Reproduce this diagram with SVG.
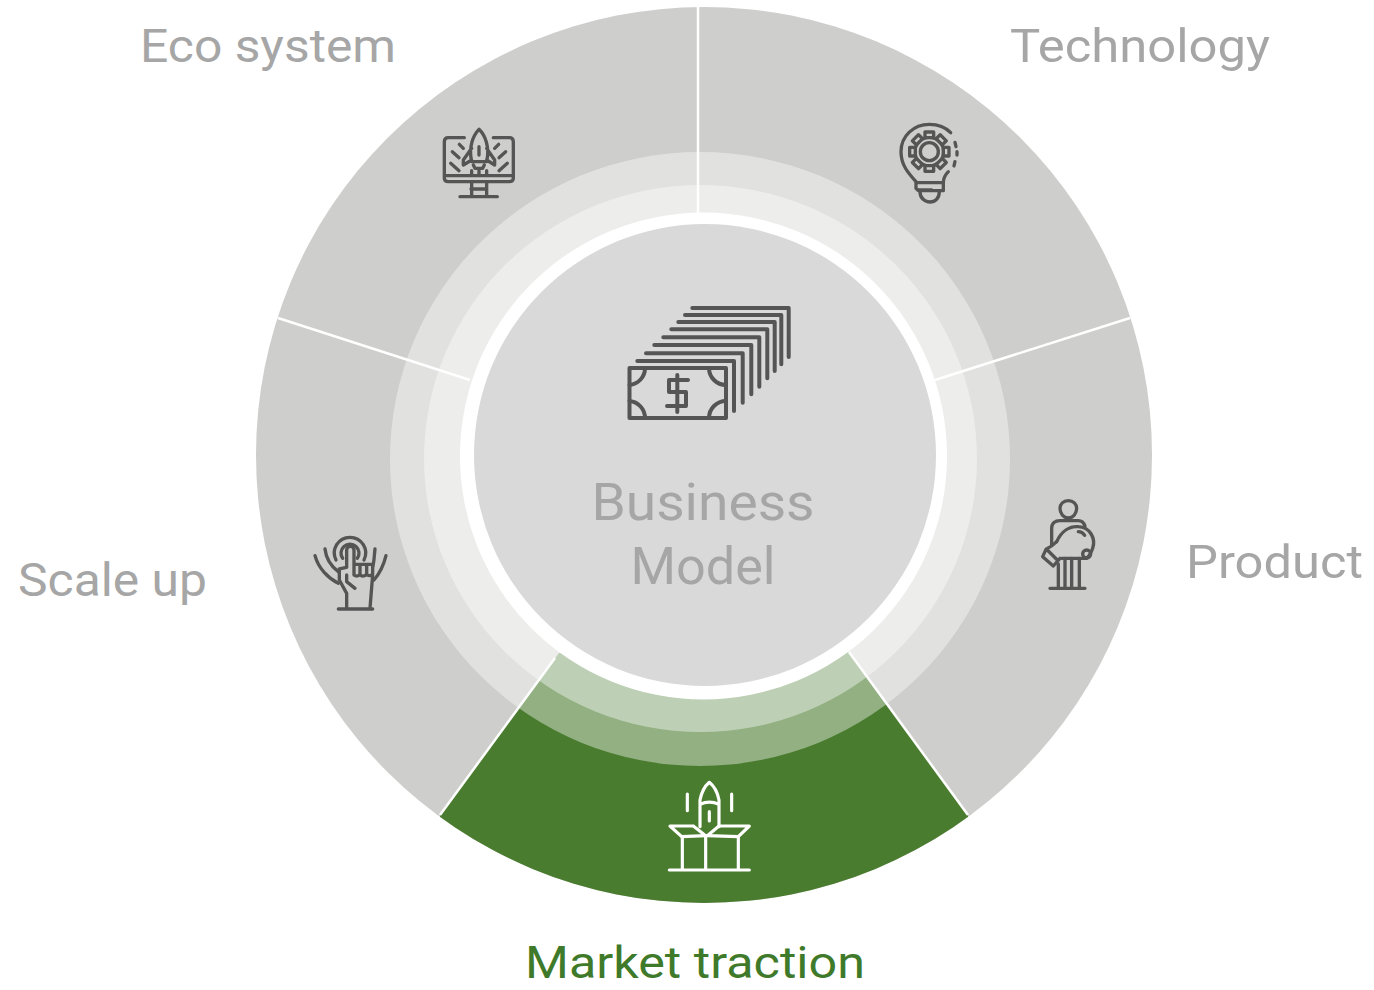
<svg xmlns="http://www.w3.org/2000/svg" width="1374" height="990" viewBox="0 0 1374 990">
<style>
.lbl{font-family:"Roboto","Liberation Sans",sans-serif;font-weight:400;fill:#a6a6a6;font-size:46px}
.ctr{font-size:52px;text-anchor:middle}
.ic{fill:none;stroke:#555;stroke-width:10;stroke-linecap:round;stroke-linejoin:round}
.ic2{fill:none;stroke:#555;stroke-width:4;stroke-linecap:round;stroke-linejoin:round}
.icw{fill:none;stroke:#fff;stroke-width:9.5;stroke-linecap:round;stroke-linejoin:round}
.sep{stroke:#fff;stroke-width:2.5;fill:none}
</style>
<defs><clipPath id="outer"><circle cx="704" cy="455" r="448"/></clipPath></defs>
<rect width="1374" height="990" fill="#fff"/>
<g id="wheel">
<circle cx="704" cy="455" r="448" fill="#cececc"/>
<polygon clip-path="url(#outer)" points="559,653 849,652 968,815 968,910 440,910 440,815" fill="#4a7c2f"/>
<ellipse cx="700" cy="459" rx="310" ry="307" fill="#fff" fill-opacity="0.4"/>
<ellipse cx="700.5" cy="458.5" rx="276.500" ry="273.500" fill="#fff" fill-opacity="0.4"/>
</g>
<g id="connectors">
<line class="sep" x1="698" y1="6" x2="698" y2="214"/>
<line class="sep" x1="1130" y1="318" x2="935" y2="380"/>
<line class="sep" x1="278" y1="318" x2="470" y2="380"/>
<line class="sep" x1="440" y1="815" x2="555" y2="658"/>
<line class="sep" x1="968" y1="815" x2="849" y2="652"/>
</g>
<g id="center">
<circle cx="703.500" cy="456" r="243.500" fill="#fff"/>
<circle cx="705" cy="455" r="231" fill="#d9d9d9"/>
<g class="ic2">
<rect x="629.500" y="368" width="96.500" height="50"/>
<path d="M637.300 361H734V411M646 353.300H742.700V402.700M654.300 345H751.300V394.300M663.300 337.300H759.300V386.700M671.300 329.300H767.300V378.300M678.300 322H774.700V371M685 315H781.300V364.300M692.300 308H788.700V357"/>
<path d="M629.500 385A17 17 0 0 0 645 368M726 385A17 17 0 0 1 709 368M629.500 401A17 17 0 0 1 645 418M726 401A17 17 0 0 0 709 418"/>
<path d="M688 380H669V392H686V406H667M677.300 375V412"/>
</g>
<text class="lbl ctr" x="703" y="520" textLength="223" lengthAdjust="spacingAndGlyphs">Business</text>
<text class="lbl ctr" x="703" y="584" textLength="145" lengthAdjust="spacingAndGlyphs">Model</text>
</g>
<g id="eco-system">
<g class="ic" transform="translate(420 110) scale(.3333)">
<path d="M133 83H85Q73 83 73 95V205Q73 215 85 215H268Q280 215 280 205V95Q280 83 268 83H220M73 197H280M155 215V260M200 215V260M153 237H200M120 260H232"/>
<path d="M155 155C145 110 160 75 177 58C195 75 210 110 200 155ZM155 115L130 150V165L155 150M200 115L224 150V165L200 150M177 110V135M160 165L165 175H188L193 165"/>
<path d="M118 103L130 115M97 125L117 143M92 160L117 182M236 103L224 115M257 125L237 143M262 160L237 182M155 182V195M177 182V195M200 182V195"/>
</g>
<text class="lbl" x="140" y="62" textLength="256" lengthAdjust="spacingAndGlyphs">Eco system</text>
</g>
<g id="technology">
<g class="ic" transform="translate(880 110) scale(.3333)">
<path d="M108 215C85 190 63 165 63 125C63 78 101 43 148 43C175 43 197 52 212 68M225 97L228 110M231 125V135M225 155L222 168M205 185C195 195 190 205 190 218"/>
<circle cx="148" cy="125" r="27"/>
<circle cx="148" cy="125" r="43"/>
<g fill="#cececc">
<rect x="135" y="66" width="26" height="17"/>
<rect x="135" y="66" width="26" height="17" transform="rotate(45 148 125)"/>
<rect x="135" y="66" width="26" height="17" transform="rotate(90 148 125)"/>
<rect x="135" y="66" width="26" height="17" transform="rotate(135 148 125)"/>
<rect x="135" y="66" width="26" height="17" transform="rotate(180 148 125)"/>
<rect x="135" y="66" width="26" height="17" transform="rotate(225 148 125)"/>
<rect x="135" y="66" width="26" height="17" transform="rotate(270 148 125)"/>
<rect x="135" y="66" width="26" height="17" transform="rotate(315 148 125)"/>
</g>
<path d="M108 218H190V242H115L108 235ZM115 240H155M120 245C120 265 135 276 150 276C165 276 178 265 178 245"/>
</g>
<text class="lbl" x="1010" y="62" textLength="260" lengthAdjust="spacingAndGlyphs">Technology</text>
</g>
<g id="product">
<g class="ic" transform="translate(1020 490) scale(.3333)">
<path d="M145 84C130 84 120 70 120 55C120 42 130 32 145 32C160 32 170 42 170 55C170 70 160 84 145 84Z"/>
<path d="M95 165V115C95 100 105 92 120 92H175C185 92 192 100 195 108"/>
<path d="M110 155C125 122 150 108 175 110C210 112 228 145 218 175C213 190 208 198 200 205H125"/>
<circle cx="200" cy="192" r="12"/>
<path d="M175 125C183 125 190 130 194 136"/>
<path d="M110 155C100 165 95 170 78 178L68 200L100 228L120 205M82 180L112 210"/>
<path d="M115 222V292M135 205V292M155 205V292M178 205V292M90 295H195"/>
</g>
<text class="lbl" x="1186" y="578" textLength="177" lengthAdjust="spacingAndGlyphs">Product</text>
</g>
<g id="scale-up">
<g class="ic" transform="translate(300 525) scale(.3333)">
<path d="M128 100A27 27 0 1 1 172 100M108 105A47 47 0 1 1 192 105"/>
<path d="M140 125V75A11 11 0 0 1 162 75V150M162 118H218V145C218 152 205 155 200 148C195 155 183 155 180 148C175 155 165 155 162 148M180 118V148M200 118V148"/>
<path d="M140 127L118 132V165L140 205V250M140 150V170L165 190M218 150L210 250M115 252H218"/>
<path d="M45 92C55 130 85 160 115 175M75 72C78 100 95 125 115 140M258 92C250 125 235 150 222 165M225 72C222 100 222 115 218 125"/>
</g>
<text class="lbl" x="18" y="596" textLength="189" lengthAdjust="spacingAndGlyphs">Scale up</text>
</g>
<g id="market-traction">
<g class="icw" transform="translate(650 770) scale(.3333)">
<path d="M150 170V90C155 65 165 48 178 37C192 48 202 65 207 90V170M150 103Q178 90 207 103M178 125V153M112 72V122M245 72V122"/>
<path d="M130 168H60L95 200L167 197L130 168M207 168H298L265 200L172 197L207 168"/>
<path d="M97 200V300M167 197V300M265 200V300M58 300H298"/>
</g>
<text class="lbl" style="fill:#3f7a2a;font-size:45px" x="525" y="978" textLength="340" lengthAdjust="spacingAndGlyphs">Market traction</text>
</g>
</svg>
